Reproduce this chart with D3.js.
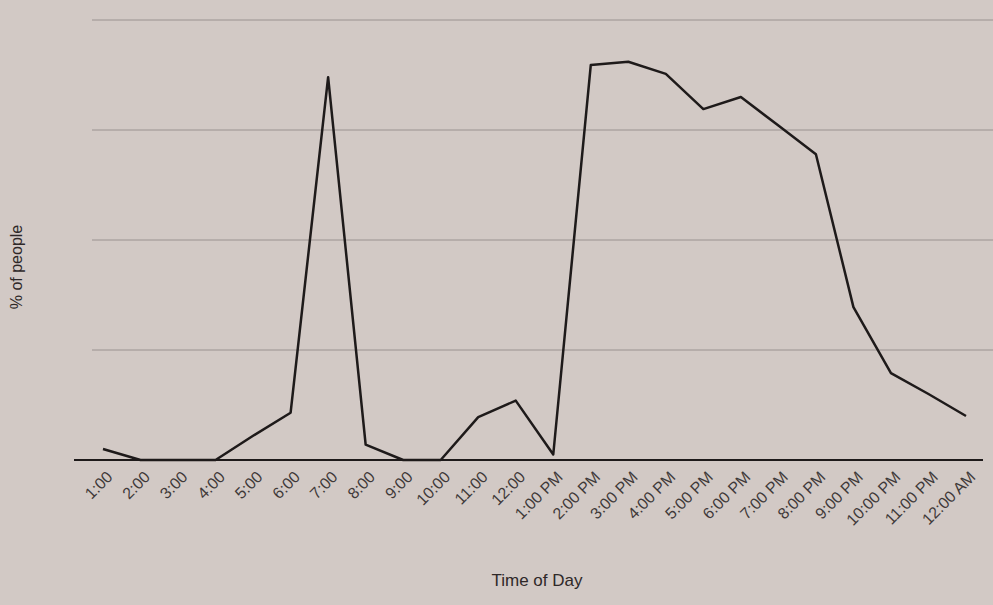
<!DOCTYPE html>
<html>
<head>
<meta charset="utf-8">
<script src="https://cdn.jsdelivr.net/npm/d3@7"></script>
<style>
  html, body { margin: 0; padding: 0; background: #d2c9c5; }
  svg { display: block; }
</style>
</head>
<body>
<div id="chart"></div>
<script>
// hours of the day, as printed on the x axis
const hours = ['1:00', '2:00', '3:00', '4:00', '5:00', '6:00', '7:00', '8:00', '9:00', '10:00',
  '11:00', '12:00', '1:00 PM', '2:00 PM', '3:00 PM', '4:00 PM', '5:00 PM', '6:00 PM',
  '7:00 PM', '8:00 PM', '9:00 PM', '10:00 PM', '11:00 PM', '12:00 AM'];

// share of people, in grid units (the y axis has no labels)
const share = [0.10, 0.0, 0.0, 0.0, 0.22, 0.43, 3.48, 0.14, 0.0, 0.0,
  0.39, 0.54, 0.05, 3.59, 3.62, 3.51, 3.19, 3.30, 3.04, 2.78, 1.39, 0.79, 0.60, 0.40];

const gridTicks = [1, 2, 3, 4];

const W = 993, H = 605;
const plotLeft = 74, plotRight = 983, plotBase = 460, plotTop = 20;

const svg = d3.select('#chart').append('svg')
  .attr('width', W).attr('height', H);

const x = d3.scalePoint().domain(hours).range([103, 966]);
const y = d3.scaleLinear().domain([0, 4]).range([plotBase, plotTop]);

// gridlines
svg.append('g')
  .selectAll('line')
  .data(gridTicks)
  .join('line')
  .attr('x1', 92).attr('x2', W)
  .attr('y1', d => y(d)).attr('y2', d => y(d))
  .attr('stroke', '#9a9290')
  .attr('stroke-width', 1);

// x axis
const xAxis = svg.append('g')
  .attr('transform', `translate(0,${plotBase})`)
  .call(d3.axisBottom(x).tickSize(0).tickPadding(0));
xAxis.select('.domain').remove();
xAxis.append('line')
  .attr('x1', plotLeft).attr('x2', plotRight)
  .attr('stroke', '#1e1a1a').attr('stroke-width', 2);
xAxis.selectAll('.tick text')
  .attr('fill', '#3f3939')
  .attr('font-family', 'Liberation Sans, Arial, sans-serif')
  .attr('font-size', 16)
  .attr('text-anchor', 'end')
  .attr('dy', null)
  .attr('transform', 'translate(10,18) rotate(-45)');

// line
const line = d3.line()
  .x((d, i) => x(hours[i]))
  .y(d => y(d));

svg.append('path')
  .datum(share)
  .attr('d', line)
  .attr('fill', 'none')
  .attr('stroke', '#1e1a1a')
  .attr('stroke-width', 2.5)
  .attr('stroke-linejoin', 'round');

// axis titles
svg.append('text')
  .attr('x', 537).attr('y', 586)
  .attr('text-anchor', 'middle')
  .attr('fill', '#2e2828')
  .attr('font-family', 'Liberation Sans, Arial, sans-serif')
  .attr('font-size', 17)
  .text('Time of Day');

svg.append('text')
  .attr('transform', 'translate(22,267) rotate(-90)')
  .attr('text-anchor', 'middle')
  .attr('fill', '#2e2828')
  .attr('font-family', 'Liberation Sans, Arial, sans-serif')
  .attr('font-size', 16)
  .text('% of people');
</script>
</body>
</html>
